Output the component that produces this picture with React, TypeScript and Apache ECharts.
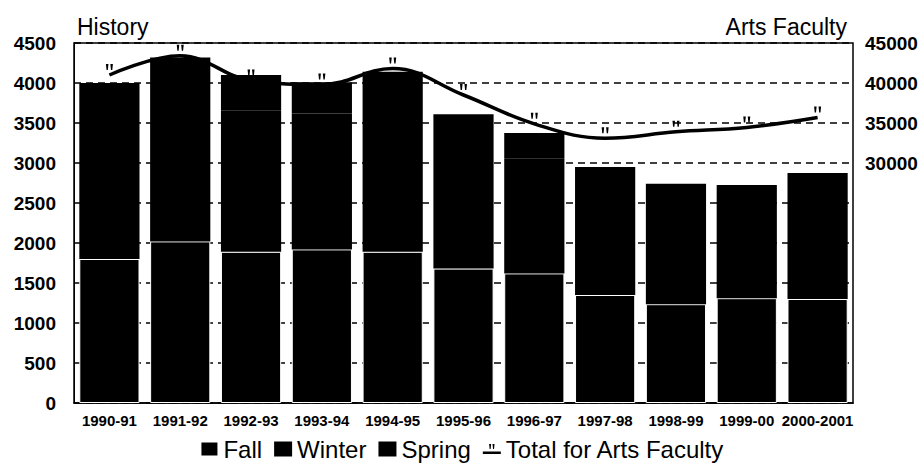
import React, { useEffect, useRef } from 'react';
import * as echarts from 'echarts';

const categories = ['1990-91', '1991-92', '1992-93', '1993-94', '1994-95', '1995-96', '1996-97', '1997-98', '1998-99', '1999-00', '2000-2001'];
const fallValues = [1800, 2020, 1890, 1920, 1890, 1680, 1620, 1350, 1235, 1310, 1300];
const winterValues = [1650, 1730, 1770, 1700, 1710, 1720, 1440, 1275, 1265, 1165, 1300];
const springValues = [550, 570, 440, 390, 540, 210, 315, 325, 240, 250, 275];
const artsFacultyTotal = [41000, 43400, 40300, 39800, 41800, 38500, 34900, 33100, 33900, 34450, 35700];

const FONT = "'Liberation Sans', Arial, Helvetica, sans-serif";
const QUOTE_MARK = 'path://M0,0H2.4L1.8,6H0.6Z M4.2,0H6.6L6,6H4.8Z';
const LINE_ICON = 'path://M0,9H18V11.5H0Z M6.3,1.5H8.3L7.8,6.5H6.8Z M9.7,1.5H11.7L11.2,6.5H10.2Z';

export default function App() {
  const ref = useRef<HTMLDivElement>(null);
  useEffect(() => {
    if (!ref.current) return;
    const chart = echarts.init(ref.current, null, { renderer: 'svg' });
    const barBase = { type: 'bar', stack: 'history', barCategoryGap: '15%' };
    chart.setOption({
      animation: false,
      backgroundColor: '#fff',
      textStyle: { fontFamily: FONT, color: '#000' },
      title: [
        { text: 'History', left: 72, top: 10, textStyle: { fontFamily: FONT, fontSize: 23, fontWeight: 'normal', color: '#000' } },
        { text: 'Arts Faculty', right: 72, top: 10, textStyle: { fontFamily: FONT, fontSize: 23, fontWeight: 'normal', color: '#000' } },
      ],
      grid: { left: 74, right: 71, top: 43, bottom: 67, show: true, borderColor: '#000', borderWidth: 1.5, backgroundColor: 'transparent' },
      legend: {
        top: 432,
        left: 'center',
        itemWidth: 18,
        itemHeight: 15,
        itemGap: 12,
        textStyle: { fontFamily: FONT, fontSize: 24, color: '#000' },
        data: [
          { name: 'Fall', icon: 'rect' },
          { name: 'Winter', icon: 'rect' },
          { name: 'Spring', icon: 'rect' },
          { name: 'Total for Arts Faculty', icon: LINE_ICON },
        ],
      },
      xAxis: {
        type: 'category',
        data: categories,
        axisLine: { lineStyle: { color: '#000', width: 1.5 } },
        axisTick: { show: false },
        axisLabel: { interval: 0, fontFamily: FONT, fontSize: 15, fontWeight: 'bold', color: '#000', margin: 10 },
      },
      yAxis: [
        {
          type: 'value',
          min: 0,
          max: 4500,
          interval: 500,
          axisLine: { show: true, lineStyle: { color: '#000', width: 1 } },
          axisTick: { show: false },
          axisLabel: { fontFamily: FONT, fontSize: 19, fontWeight: 'bold', color: '#000', margin: 18, formatter: (v: number) => String(v) },
          splitLine: { show: true, lineStyle: { color: '#000', width: 1.5, type: [7, 5] } },
        },
        {
          type: 'value',
          min: 0,
          max: 45000,
          interval: 5000,
          position: 'right',
          axisLine: { show: false },
          axisTick: { show: false },
          splitLine: { show: false },
          axisLabel: {
            fontFamily: FONT, fontSize: 19, fontWeight: 'bold', color: '#000', margin: 12,
            formatter: (v: number) => (v >= 30000 ? String(v) : ''),
          },
        },
      ],
      series: [
        { ...barBase, name: 'Fall', data: fallValues, itemStyle: { color: '#000', borderColor: '#fff', borderWidth: 1 } },
        { ...barBase, name: 'Winter', data: winterValues, itemStyle: { color: '#000' } },
        { ...barBase, name: 'Spring', data: springValues, itemStyle: { color: '#000' } },
        {
          type: 'line',
          name: 'Total for Arts Faculty',
          yAxisIndex: 1,
          data: artsFacultyTotal,
          smooth: 0.4,
          symbol: QUOTE_MARK,
          symbolSize: [7, 6],
          symbolOffset: [0, -8],
          showSymbol: true,
          z: 5,
          lineStyle: { color: '#000', width: 3.5 },
          itemStyle: { color: '#000' },
        },
      ],
    });
    return () => chart.dispose();
  }, []);
  return <div ref={ref} style={{ position: 'fixed', left: 0, top: 0, width: 924, height: 470 }} />;
}
